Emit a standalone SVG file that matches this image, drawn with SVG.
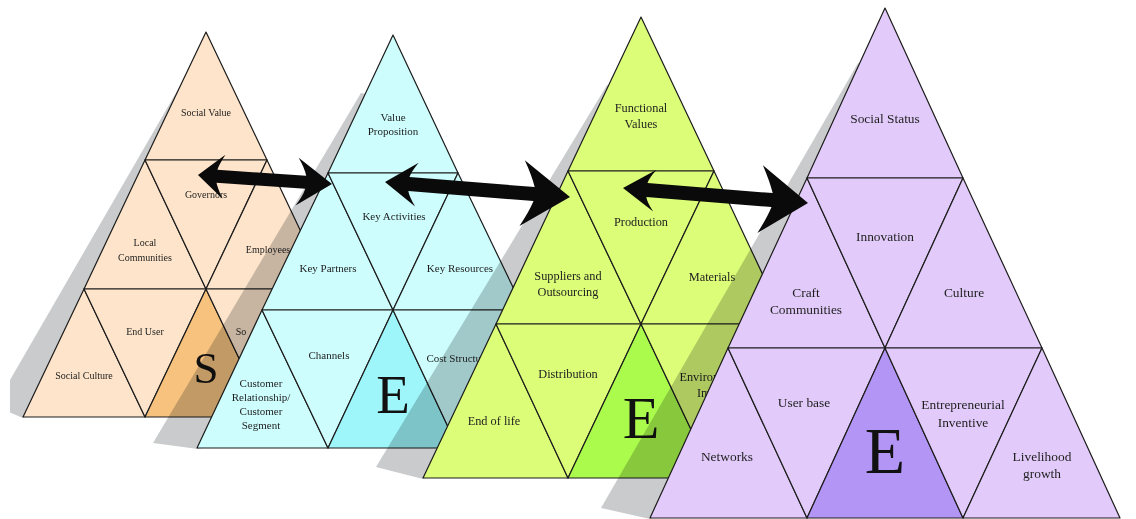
<svg xmlns="http://www.w3.org/2000/svg" width="1136" height="519" viewBox="0 0 1136 519">
  <style>
    .tri { stroke: #1c1c1c; stroke-width: 1.2; stroke-linejoin: round; }
    .peach { fill: #fde4ca; } .peachE { fill: #f7c17e; }
    .cyan { fill: #cdfdfd; } .cyanE { fill: #9ef6fb; }
    .lime { fill: #dcfd78; } .limeE { fill: #abfb4c; }
    .lilac { fill: #e2cbfa; } .lilacE { fill: #b395f5; }
    .shadow { fill: #c9cbcc; mix-blend-mode: multiply; }
    text { font-family: "Liberation Serif", "Times New Roman", serif; fill: #1e1e1e; text-anchor: middle; }
    .big { fill: #111; }
    .arrow { fill: #0a0a0a; }
  </style>
  <defs>
    <clipPath id="leftMargin"><rect x="10" y="0" width="1126" height="519"/></clipPath>
  </defs>
  <rect width="1136" height="519" fill="#ffffff"/>

  <!-- Pyramid S (social) -->
  <polygon class="shadow" clip-path="url(#leftMargin)" points="188,72 -5,406 23,418 60,405 200,70"/>
  <g id="pyramid-social" font-size="10">
    <polygon class="tri peach" points="206,32 145,160 267,160"/>
    <polygon class="tri peach" points="145,160 84,289 206,289"/>
    <polygon class="tri peach" points="145,160 267,160 206,289"/>
    <polygon class="tri peach" points="267,160 206,289 328,289"/>
    <polygon class="tri peach" points="84,289 23,417 145,417"/>
    <polygon class="tri peach" points="84,289 206,289 145,417"/>
    <polygon class="tri peachE" points="206,289 145,417 267,417"/>
    <polygon class="tri peach" points="206,289 328,289 267,417"/>
    <polygon class="tri peach" points="328,289 267,417 389,417"/>
    <text x="206" y="116">Social Value</text>
    <text x="206" y="198">Governors</text>
    <text x="145" y="246">Local</text>
    <text x="145" y="261">Communities</text>
    <text x="268" y="253">Employees</text>
    <text x="145" y="335">End User</text>
    <text x="84" y="379">Social Culture</text>
    <text x="241" y="335" text-anchor="start">So</text>
    <text class="big" x="206" y="383" font-size="45">S</text>
  </g>

  <!-- Pyramid E (economic, business model) -->
  <polygon class="shadow" points="361,93 153,443 198,449 240,438 372,95"/>
  <g id="pyramid-business" font-size="11">
    <polygon class="tri cyan" points="393,35 328,173 458,173"/>
    <polygon class="tri cyan" points="328,173 262,310 393,310"/>
    <polygon class="tri cyan" points="328,173 458,173 393,310"/>
    <polygon class="tri cyan" points="458,173 393,310 524,310"/>
    <polygon class="tri cyan" points="262,310 197,448 328,448"/>
    <polygon class="tri cyan" points="262,310 393,310 328,448"/>
    <polygon class="tri cyanE" points="393,310 328,448 458,448"/>
    <polygon class="tri cyan" points="393,310 524,310 458,448"/>
    <polygon class="tri cyan" points="524,310 458,448 589,448"/>
    <text x="393" y="121">Value</text>
    <text x="393" y="135">Proposition</text>
    <text x="394" y="220">Key Activities</text>
    <text x="328" y="272">Key Partners</text>
    <text x="460" y="272">Key Resources</text>
    <text x="329" y="359">Channels</text>
    <text x="261" y="387">Customer</text>
    <text x="261" y="401">Relationship/</text>
    <text x="261" y="415">Customer</text>
    <text x="261" y="429">Segment</text>
    <text x="458" y="362">Cost Structure</text>
    <text class="big" x="393" y="413" font-size="55">E</text>
  </g>

  <!-- Pyramid E (environmental, product life) -->
  <polygon class="shadow" points="607,85 376,467 423,479 470,465 618,88"/>
  <g id="pyramid-product" font-size="12.3">
    <polygon class="tri lime" points="641,17 568,171 714,171"/>
    <polygon class="tri lime" points="568,171 496,324 641,324"/>
    <polygon class="tri lime" points="568,171 714,171 641,324"/>
    <polygon class="tri lime" points="714,171 641,324 786,324"/>
    <polygon class="tri lime" points="496,324 423,478 568,478"/>
    <polygon class="tri lime" points="496,324 641,324 568,478"/>
    <polygon class="tri limeE" points="641,324 568,478 714,478"/>
    <polygon class="tri lime" points="641,324 786,324 714,478"/>
    <polygon class="tri lime" points="786,324 714,478 859,478"/>
    <text x="641" y="112">Functional</text>
    <text x="641" y="128">Values</text>
    <text x="641" y="226">Production</text>
    <text x="568" y="280">Suppliers and</text>
    <text x="568" y="296">Outsourcing</text>
    <text x="712" y="281">Materials</text>
    <text x="568" y="378">Distribution</text>
    <text x="494" y="425">End of life</text>
    <text x="716" y="381">Environmental</text>
    <text x="714" y="397">Impact</text>
    <text class="big" x="641" y="438" font-size="60">E</text>
  </g>

  <!-- Pyramid E (enterprise, craft) -->
  <polygon class="shadow" points="858,63 601,508 650,519 700,505 870,66"/>
  <g id="pyramid-craft" font-size="13.4">
    <polygon class="tri lilac" points="885,8 807,178 963,178"/>
    <polygon class="tri lilac" points="807,178 728,348 885,348"/>
    <polygon class="tri lilac" points="807,178 963,178 885,348"/>
    <polygon class="tri lilac" points="963,178 885,348 1042,348"/>
    <polygon class="tri lilac" points="728,348 650,518 807,518"/>
    <polygon class="tri lilac" points="728,348 885,348 807,518"/>
    <polygon class="tri lilacE" points="885,348 807,518 963,518"/>
    <polygon class="tri lilac" points="885,348 1042,348 963,518"/>
    <polygon class="tri lilac" points="1042,348 963,518 1120,518"/>
    <text x="885" y="123">Social Status</text>
    <text x="885" y="241">Innovation</text>
    <text x="806" y="297">Craft</text>
    <text x="806" y="314">Communities</text>
    <text x="964" y="297">Culture</text>
    <text x="804" y="407">User base</text>
    <text x="727" y="461">Networks</text>
    <text x="963" y="409">Entrepreneurial</text>
    <text x="963" y="427">Inventive</text>
    <text x="1042" y="461">Livelihood</text>
    <text x="1042" y="478">growth</text>
    <text class="big" x="885" y="473" font-size="66">E</text>
  </g>

  <!-- Double-headed links between neighbouring pyramids; heads have swept-back barbs -->
  <g id="connectors" class="arrow">
    <path transform="translate(198,175) rotate(3.84)" d="M0,0 L26,-22 Q20,-11 19,-6.5 L108,-6.5 Q106,-14 99.3,-24 L134.3,0 L99.3,24 Q106,14 108,6.5 L19,6.5 Q20,11 26,22 Z"/>
    <path transform="translate(385,182) rotate(4.64)" d="M0,0 L32,-22 Q25,-12 24,-7 L149.6,-7 Q146,-18 137.6,-33 L185.6,0 L137.6,33 Q146,18 149.6,7 L24,7 Q25,12 32,22 Z"/>
    <path transform="translate(623,188) rotate(4.64)" d="M0,0 L32,-21 Q25,-12 24,-7 L149.6,-7 Q146,-18 137.6,-34 L185.6,0 L137.6,34 Q146,18 149.6,7 L24,7 Q25,12 32,21 Z"/>
  </g>
</svg>
